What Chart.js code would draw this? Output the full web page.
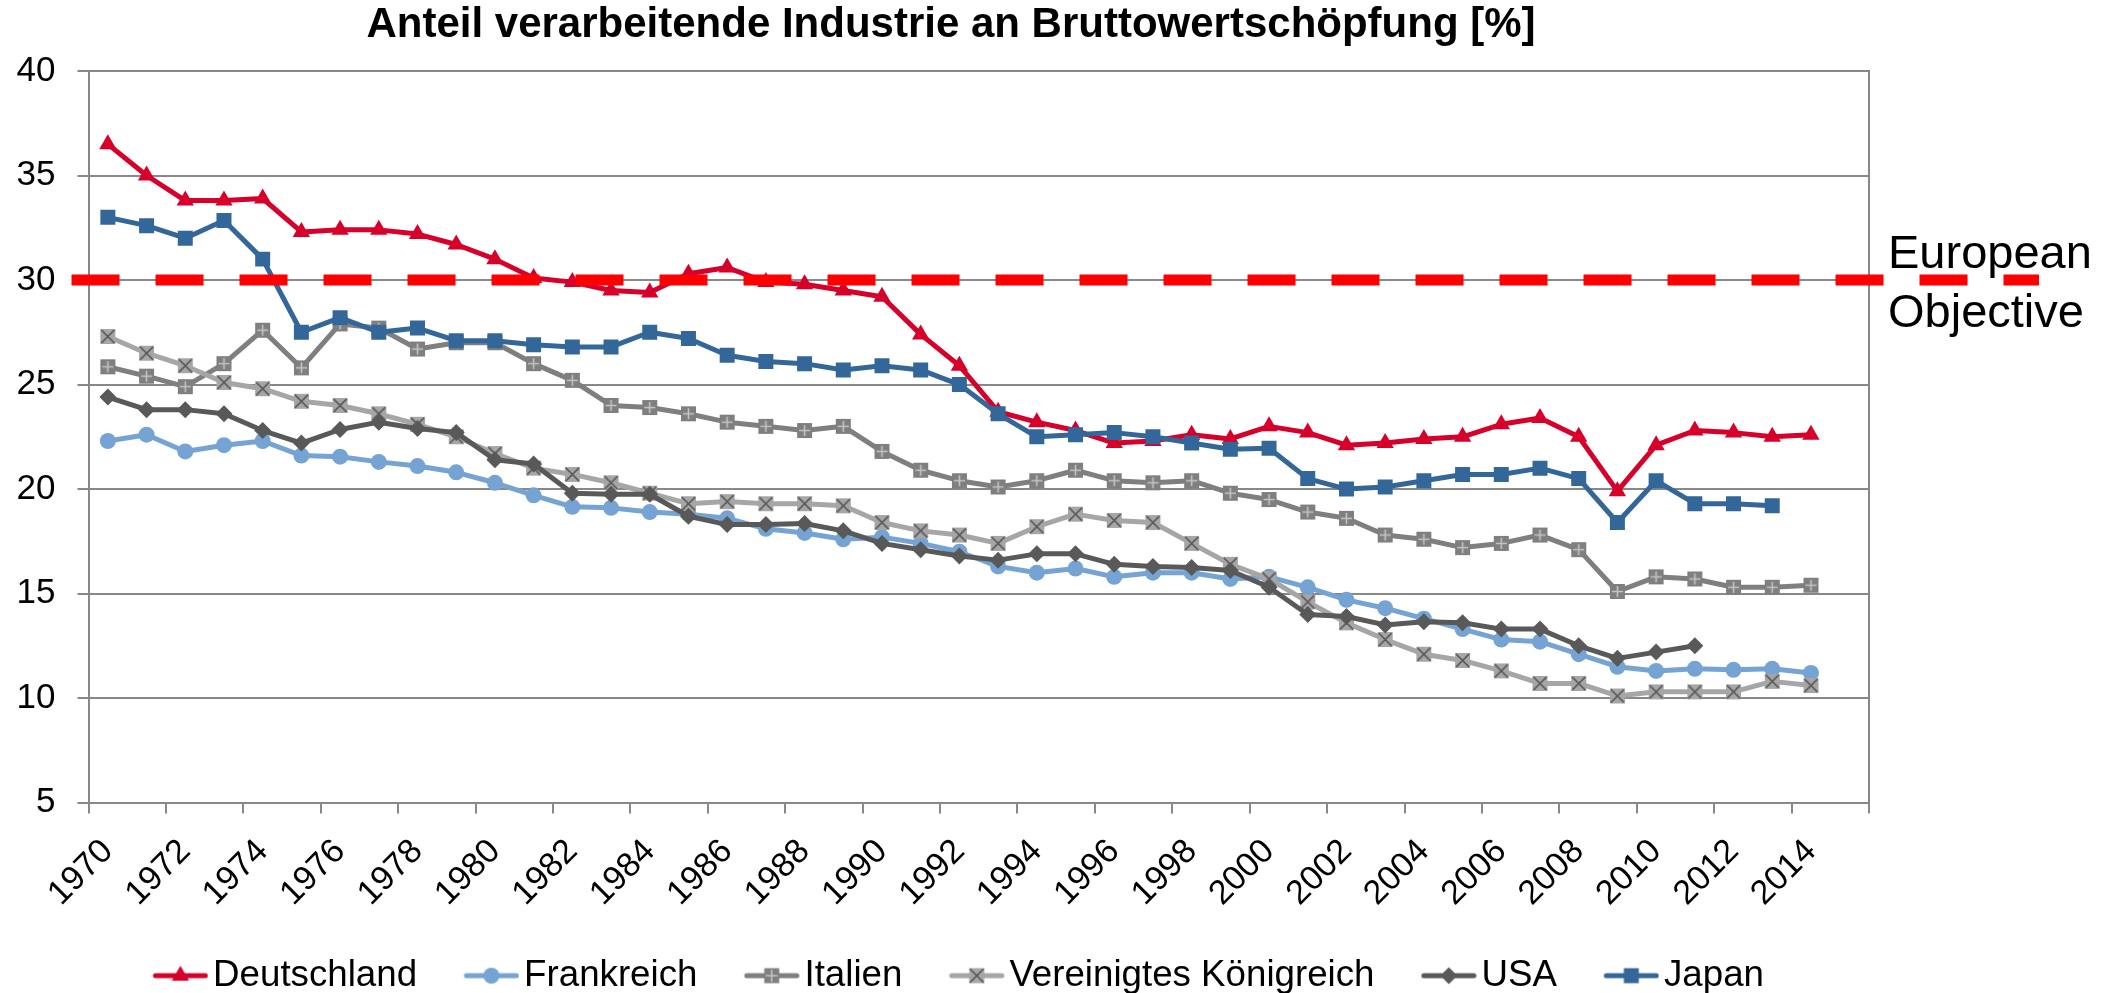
<!DOCTYPE html>
<html>
<head>
<meta charset="utf-8">
<title>Anteil verarbeitende Industrie</title>
<script src="https://cdn.jsdelivr.net/npm/chart.js@4.4.1/dist/chart.umd.min.js"></script>
<style>
    body { margin: 0; background: #fff; }
    canvas { display: block; }
</style>
</head>
<body>
<canvas id="industrie" width="2123" height="993"></canvas>
<script>
const jahre = [1970, 1971, 1972, 1973, 1974, 1975, 1976, 1977, 1978, 1979,
    1980, 1981, 1982, 1983, 1984, 1985, 1986, 1987, 1988, 1989,
    1990, 1991, 1992, 1993, 1994, 1995, 1996, 1997, 1998, 1999,
    2000, 2001, 2002, 2003, 2004, 2005, 2006, 2007, 2008, 2009,
    2010, 2011, 2012, 2013, 2014, 2015];

const deutschland = [36.5, 35.0, 33.8, 33.8, 33.9, 32.3, 32.4, 32.4, 32.2, 31.7,
    31.0, 30.1, 29.9, 29.5, 29.4, 30.3, 30.6, 29.9, 29.8, 29.5,
    29.2, 27.4, 25.9, 23.7, 23.2, 22.8, 22.2, 22.3, 22.6, 22.4,
    23.0, 22.7, 22.1, 22.2, 22.4, 22.5, 23.1, 23.4, 22.5, 19.9,
    22.1, 22.8, 22.7, 22.5, 22.6];
const frankreich = [22.3, 22.6, 21.8, 22.1, 22.3, 21.6, 21.55, 21.3, 21.1, 20.8,
    20.3, 19.7, 19.15, 19.1, 18.9, 18.8, 18.6, 18.1, 17.9, 17.6,
    17.7, 17.4, 17.0, 16.3, 16.0, 16.2, 15.8, 16.0, 16.0, 15.7,
    15.8, 15.3, 14.7, 14.3, 13.8, 13.3, 12.8, 12.7, 12.1, 11.5,
    11.3, 11.4, 11.35, 11.4, 11.2];
const italien = [25.85, 25.4, 24.9, 26.0, 27.6, 25.8, 27.9, 27.7, 26.7, 27.0,
    27.0, 26.0, 25.2, 24.0, 23.9, 23.6, 23.2, 23.0, 22.8, 23.0,
    21.8, 20.9, 20.4, 20.1, 20.4, 20.9, 20.4, 20.3, 20.4, 19.8,
    19.5, 18.9, 18.6, 17.8, 17.6, 17.2, 17.4, 17.8, 17.1, 15.1,
    15.8, 15.7, 15.3, 15.3, 15.4];
const vk = [27.3, 26.5, 25.9, 25.1, 24.8, 24.2, 24.0, 23.6, 23.1, 22.5,
    21.7, 21.0, 20.7, 20.3, 19.8, 19.3, 19.4, 19.3, 19.3, 19.2,
    18.4, 18.0, 17.8, 17.4, 18.2, 18.8, 18.5, 18.4, 17.4, 16.4,
    15.7, 14.6, 13.6, 12.8, 12.1, 11.8, 11.3, 10.7, 10.7, 10.1,
    10.3, 10.3, 10.3, 10.8, 10.6];
const usa = [24.4, 23.8, 23.8, 23.6, 22.8, 22.2, 22.85, 23.2, 22.9, 22.7,
    21.4, 21.2, 19.8, 19.75, 19.75, 18.7, 18.3, 18.3, 18.35, 18.0,
    17.4, 17.1, 16.8, 16.6, 16.9, 16.9, 16.4, 16.3, 16.25, 16.1,
    15.3, 14.0, 13.9, 13.5, 13.65, 13.6, 13.3, 13.3, 12.5, 11.9,
    12.2, 12.5, null, null, null];
const japan = [33.0, 32.6, 32.0, 32.85, 31.0, 27.5, 28.2, 27.5, 27.7, 27.1,
    27.1, 26.9, 26.8, 26.8, 27.5, 27.2, 26.4, 26.1, 26.0, 25.7,
    25.9, 25.7, 25.0, 23.6, 22.5, 22.6, 22.7, 22.5, 22.2, 21.9,
    21.95, 20.5, 20.0, 20.1, 20.4, 20.7, 20.7, 21.0, 20.5, 18.4,
    20.4, 19.3, 19.3, 19.2, null];

const objective = 30;
const yMin = 5,
    yMax = 40,
    yStep = 5;

const schrift = "'Liberation Sans', Arial, sans-serif";
const grau = "#888888";

document.addEventListener("DOMContentLoaded", function() {
    zeichneGrafik();
})

// draws one marker shape centred on x,y
function marker(ctx, art, farbe, x, y) {
    ctx.fillStyle = farbe;
    ctx.beginPath();
    if (art == "triangle") {
        ctx.moveTo(x, y - 10);
        ctx.lineTo(x + 8.66, y + 5);
        ctx.lineTo(x - 8.66, y + 5);
        ctx.closePath();
        ctx.fill();
    } else if (art == "circle") {
        ctx.arc(x, y, 8, 0, Math.PI * 2);
        ctx.fill();
    } else if (art == "rect") {
        ctx.rect(x - 7.5, y - 7.5, 15, 15);
        ctx.fill();
    } else if (art == "rectRot") {
        ctx.moveTo(x, y - 8.5);
        ctx.lineTo(x + 8.5, y);
        ctx.lineTo(x, y + 8.5);
        ctx.lineTo(x - 8.5, y);
        ctx.closePath();
        ctx.fill();
    } else if (art == "plus") {
        ctx.rect(x - 7.5, y - 7.5, 15, 15);
        ctx.fill();
        ctx.strokeStyle = "#C4C4C4";
        ctx.lineWidth = 1.6;
        ctx.beginPath();
        ctx.moveTo(x - 5.5, y);
        ctx.lineTo(x + 5.5, y);
        ctx.moveTo(x, y - 5.5);
        ctx.lineTo(x, y + 5.5);
        ctx.stroke();
    } else if (art == "kreuz") {
        ctx.rect(x - 7.5, y - 7.5, 15, 15);
        ctx.fill();
        ctx.strokeStyle = "#555555";
        ctx.lineWidth = 1.6;
        ctx.beginPath();
        ctx.moveTo(x - 6.5, y - 6.5);
        ctx.lineTo(x + 6.5, y + 6.5);
        ctx.moveTo(x + 6.5, y - 6.5);
        ctx.lineTo(x - 6.5, y + 6.5);
        ctx.stroke();
    }
}

function punktBild(art, farbe) {
    const c = document.createElement("canvas");
    c.width = 17;
    c.height = 17;
    marker(c.getContext("2d"), art, farbe, 8.5, 8.5);
    return c;
}

// legend symbol: line with marker, left half of the image stays empty
function legendenBild(art, farbe) {
    const c = document.createElement("canvas");
    c.width = 110;
    c.height = 24;
    const ctx = c.getContext("2d");
    ctx.strokeStyle = farbe;
    ctx.lineWidth = 5;
    ctx.lineCap = "round";
    ctx.beginPath();
    ctx.moveTo(57, 12);
    ctx.lineTo(107, 12);
    ctx.stroke();
    marker(ctx, art, farbe, 82, 12);
    return c;
}

const objectivePlugin = {
    id: "objective",
    afterLayout(chart) {
        // legend sits a bit left of the title centre in the original
        chart.legend.left -= 13;
        chart.legend.right -= 13;
    },
    afterDatasetsDraw(chart) {
        const ctx = chart.ctx;
        const area = chart.chartArea;
        const y = chart.scales.y.getPixelForValue(objective);
        ctx.save();
        ctx.strokeStyle = "#FF0000";
        ctx.lineWidth = 11;
        ctx.setLineDash([48, 36]);
        ctx.beginPath();
        ctx.moveTo(area.left - 17, y);
        ctx.lineTo(area.right + 170, y);
        ctx.stroke();
        ctx.setLineDash([]);
        ctx.fillStyle = "#000000";
        ctx.font = "47px " + schrift;
        ctx.textAlign = "left";
        ctx.textBaseline = "alphabetic";
        ctx.fillText("European", area.right + 19, y - 11.6);
        ctx.fillText("Objective", area.right + 19, y + 46.7);
        ctx.restore();
    }
};

function zeichneGrafik() {
    const serien = [
        { label: "Deutschland", data: deutschland, farbe: "#D7002B", art: "triangle" },
        { label: "Frankreich", data: frankreich, farbe: "#74A3D4", art: "circle" },
        { label: "Italien", data: italien, farbe: "#7F7F7F", art: "plus" },
        { label: "Vereinigtes Königreich", data: vk, farbe: "#A6A6A6", art: "kreuz" },
        { label: "USA", data: usa, farbe: "#595959", art: "rectRot" },
        { label: "Japan", data: japan, farbe: "#336699", art: "rect" },
    ];
    const radien = { triangle: 10, circle: 8, rect: 10.6, rectRot: 8.5 };

    const datasets = serien.map(function(s, i) {
        let stil = s.art;
        if (s.art == "plus" || s.art == "kreuz") {
            stil = punktBild(s.art, s.farbe);
        }
        return {
            label: s.label,
            data: s.data,
            borderColor: s.farbe,
            backgroundColor: s.farbe,
            borderWidth: 5,
            borderJoinStyle: "round",
            borderCapStyle: "round",
            pointStyle: stil,
            pointRadius: radien[s.art] || 8,
            pointBorderWidth: 0,
            pointBackgroundColor: s.farbe,
            tension: 0,
            order: serien.length - i,
        };
    });

    const ctx = document.getElementById("industrie").getContext("2d");
    new Chart(ctx, {
        type: "line",
        data: {
            labels: jahre,
            datasets: datasets,
        },
        plugins: [objectivePlugin],
        options: {
            responsive: false,
            animation: false,
            devicePixelRatio: 1,
            layout: {
                padding: { left: 0, right: 221, top: 0, bottom: -11 },
            },
            plugins: {
                title: {
                    display: true,
                    text: "Anteil verarbeitende Industrie an Bruttowertschöpfung [%]",
                    color: "#000000",
                    font: { family: schrift, size: 42, weight: "bold" },
                    padding: { top: 0, bottom: 20.6 },
                },
                legend: {
                    position: "bottom",
                    labels: {
                        color: "#000000",
                        font: { family: schrift, size: 36.7 },
                        usePointStyle: true,
                        pointStyleWidth: 82.7,
                        boxHeight: 36.7,
                        padding: 6,
                        generateLabels: function(chart) {
                            return serien.map(function(s, i) {
                                return {
                                    text: s.label,
                                    fillStyle: s.farbe,
                                    strokeStyle: s.farbe,
                                    lineWidth: 0,
                                    pointStyle: legendenBild(s.art, s.farbe),
                                    hidden: false,
                                    datasetIndex: i,
                                };
                            });
                        },
                    },
                },
                tooltip: { enabled: false },
            },
            scales: {
                x: {
                    offset: true,
                    grid: {
                        offset: true,
                        drawOnChartArea: false,
                        drawTicks: true,
                        tickLength: 11,
                        lineWidth: 2,
                        color: function(c) {
                            if (c.index === undefined || c.index % 2 === 0) {
                                return grau;
                            }
                            return "rgba(0,0,0,0)";
                        },
                    },
                    border: { display: true, color: grau, width: 2 },
                    ticks: {
                        autoSkip: false,
                        minRotation: 45,
                        maxRotation: 45,
                        padding: 18,
                        color: "#000000",
                        font: { family: schrift, size: 34 },
                        callback: function(val, idx) {
                            return idx % 2 === 0 ? jahre[idx] : "";
                        },
                    },
                    afterFit: function(axis) {
                        axis.height = 148.7;
                    },
                },
                y: {
                    min: yMin,
                    max: yMax,
                    grid: {
                        color: grau,
                        lineWidth: 2,
                        tickLength: 11,
                    },
                    border: { display: true, color: grau, width: 2 },
                    ticks: {
                        stepSize: yStep,
                        padding: 22,
                        color: "#000000",
                        font: { family: schrift, size: 35 },
                    },
                    afterFit: function(axis) {
                        axis.width = 88.5;
                    },
                },
                y2: {
                    position: "right",
                    min: yMin,
                    max: yMax,
                    grid: { drawOnChartArea: false, drawTicks: false },
                    border: { display: true, color: grau, width: 2 },
                    ticks: { display: false },
                    afterFit: function(axis) {
                        axis.width = 33;
                    },
                },
            },
        },
    });
}
</script>
</body>
</html>
